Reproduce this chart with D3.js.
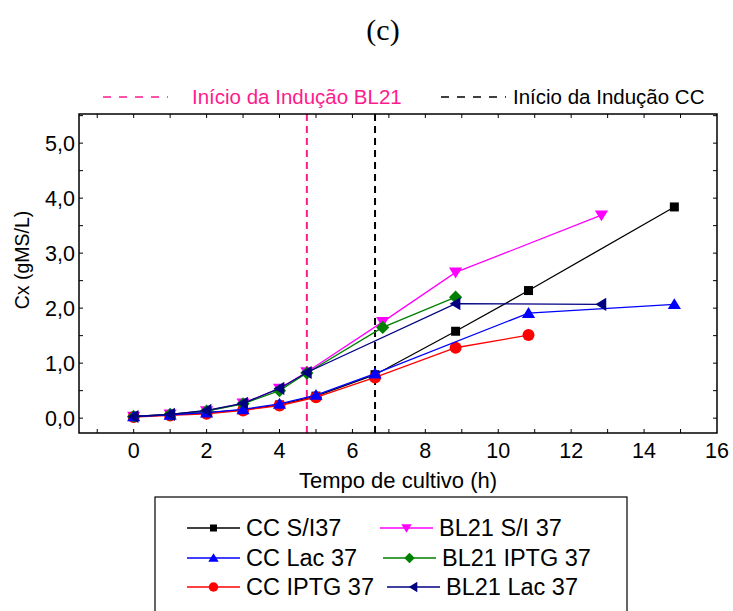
<!DOCTYPE html>
<meta charset="utf-8">
<head>
	<title>Cx vs tempo de cultivo (c)</title>
	<style>
		body { margin: 0; background: #FFFFFF; }
		svg { display: block; font-family: "Liberation Sans", Arial, sans-serif; }
		.frame { fill: none; stroke: #000; stroke-width: 1.5; }
		.tick { stroke: #000; stroke-width: 1; }
		.tickLabel { font-size: 21.5px; fill: #000; }
		.axisLabel { font-size: 22px; fill: #000; }
		.series { fill: none; stroke-width: 1.3; }
		.legendText { font-size: 23.5px; fill: #000; }
	</style>
	<script src="https://d3js.org/d3.v7.min.js"></script>
</head>
<body>
	<div id="graph"></div>
	<script>
		const W = 733, H = 611;

		// x = tempo de cultivo (h), y = Cx (gMS/L)
		const ccSI = [[0,0.03],[1,0.06],[2,0.10],[3,0.15],[4,0.24],[5,0.40],[6.62,0.79],[8.83,1.58],[10.83,2.32],[14.83,3.84]];
		const ccLac = [[0,0.03],[1,0.06],[2,0.10],[3,0.16],[4,0.26],[5,0.42],[6.62,0.81],[10.83,1.91],[14.83,2.07]];
		const ccIPTG = [[0,0.02],[1,0.05],[2,0.08],[3,0.14],[4,0.23],[5,0.38],[6.62,0.74],[8.83,1.28],[10.83,1.51]];
		const blSI = [[0,0.03],[1,0.07],[2,0.13],[3,0.27],[4,0.54],[4.75,0.84],[6.83,1.75],[8.83,2.65],[12.83,3.69]];
		const blIPTG = [[0,0.03],[1,0.07],[2,0.13],[3,0.26],[4,0.50],[4.75,0.82],[6.83,1.65],[8.83,2.20]];
		const blLac = [[0,0.03],[1,0.07],[2,0.14],[3,0.27],[4,0.54],[4.75,0.83],[8.83,2.08],[12.83,2.07]];

		const inducaoBL21 = 4.75, inducaoCC = 6.62;
		const xTicks = [0, 2, 4, 6, 8, 10, 12, 14, 16];
		const yTicks = [0, 1, 2, 3, 4, 5];

		// drawing order matters: later series sit on top
		const series = [
			{name: 'CC S/I37', data: ccSI, color: '#000000', sym: 'square'},
			{name: 'BL21 S/I 37', data: blSI, color: '#FF00FF', sym: 'down'},
			{name: 'CC IPTG 37', data: ccIPTG, color: '#FF0000', sym: 'circle'},
			{name: 'BL21 IPTG 37', data: blIPTG, color: '#008000', sym: 'diamond'},
			{name: 'CC Lac 37', data: ccLac, color: '#0000FF', sym: 'up'},
			{name: 'BL21 Lac 37', data: blLac, color: '#000080', sym: 'left'}
		];
		// legend layout, row by row
		const legendRows = [['CC S/I37', 'BL21 S/I 37'], ['CC Lac 37', 'BL21 IPTG 37'], ['CC IPTG 37', 'BL21 Lac 37']];

		const plot = {left: 79, top: 114, right: 717, bottom: 433};
		const x = d3.scaleLinear().domain([-1.5, 16]).range([plot.left, plot.right]);
		const y = d3.scaleLinear().domain([-0.27, 5.53]).range([plot.bottom, plot.top]);

		const svg = d3.select('#graph').append('svg').attr('width', W).attr('height', H);

		// marker path, centred on 0,0
		function marker(sym, s) {
			const h = s / 2;
			if (sym === 'square') return `M${-h},${-h}h${s}v${s}h${-s}Z`;
			if (sym === 'circle') return d3.symbol(d3.symbolCircle, Math.PI * h * h)();
			if (sym === 'diamond') return `M0,${-h*1.1}L${h*1.1},0L0,${h*1.1}L${-h*1.1},0Z`;
			if (sym === 'up') return `M0,${-h}L${h*1.1},${h*0.8}L${-h*1.1},${h*0.8}Z`;
			if (sym === 'down') return `M0,${h}L${h*1.1},${-h*0.8}L${-h*1.1},${-h*0.8}Z`;
			if (sym === 'left') return `M${-h},0L${h*0.8},${-h*1.1}L${h*0.8},${h*1.1}Z`;
		}

		// title
		svg.append('text').attr('x', 383).attr('y', 40).attr('text-anchor', 'middle')
			.style('font-family', '"Liberation Serif", "Times New Roman", serif').style('font-size', '30px').text('(c)');

		// induction legend above the plot
		const pink = '#FF1A8C';
		svg.append('line').attr('x1', 103).attr('x2', 168).attr('y1', 97).attr('y2', 97)
			.attr('stroke', pink).attr('stroke-width', 1.5).attr('stroke-dasharray', '8,8');
		svg.append('text').attr('x', 192).attr('y', 104).style('font-size', '20.5px').attr('fill', pink).text('Início da Indução BL21');
		svg.append('line').attr('x1', 441).attr('x2', 506).attr('y1', 97).attr('y2', 97)
			.attr('stroke', '#000').attr('stroke-width', 1.5).attr('stroke-dasharray', '8,8');
		svg.append('text').attr('x', 513).attr('y', 104).style('font-size', '20.5px').attr('fill', '#000').text('Início da Indução CC');

		// ticks (inside, mirrored on all four sides)
		const ticksG = svg.append('g');
		d3.range(-1, 16, 1).forEach(v => {
			ticksG.append('line').attr('class', 'tick').attr('x1', x(v)).attr('x2', x(v)).attr('y1', plot.bottom).attr('y2', plot.bottom - 4);
			ticksG.append('line').attr('class', 'tick').attr('x1', x(v)).attr('x2', x(v)).attr('y1', plot.top).attr('y2', plot.top + 4);
		});
		d3.range(0, 5.51, 0.5).forEach(v => {
			ticksG.append('line').attr('class', 'tick').attr('x1', plot.left).attr('x2', plot.left + 4).attr('y1', y(v)).attr('y2', y(v));
			ticksG.append('line').attr('class', 'tick').attr('x1', plot.right).attr('x2', plot.right - 4).attr('y1', y(v)).attr('y2', y(v));
		});

		// tick labels
		svg.append('g').selectAll('text').data(xTicks).join('text')
			.attr('class', 'tickLabel').attr('text-anchor', 'middle')
			.attr('x', d => x(d)).attr('y', plot.bottom + 25).text(d => d);
		svg.append('g').selectAll('text').data(yTicks).join('text')
			.attr('class', 'tickLabel').attr('text-anchor', 'end')
			.attr('x', plot.left - 4).attr('y', d => y(d) + 8).text(d => d3.format('.1f')(d).replace('.', ','));

		// axis titles
		svg.append('text').attr('class', 'axisLabel').attr('text-anchor', 'middle')
			.attr('x', 398).attr('y', 488).text('Tempo de cultivo (h)');
		svg.append('text').attr('class', 'axisLabel').attr('text-anchor', 'middle').style('font-size', '19.5px')
			.attr('transform', `translate(29,260) rotate(-90)`).text('Cx (gMS/L)');

		// induction lines
		svg.append('line').attr('x1', x(inducaoBL21)).attr('x2', x(inducaoBL21)).attr('y1', plot.top).attr('y2', plot.bottom)
			.attr('stroke', pink).attr('stroke-width', 2).attr('stroke-dasharray', '7,5');
		svg.append('line').attr('x1', x(inducaoCC)).attr('x2', x(inducaoCC)).attr('y1', plot.top).attr('y2', plot.bottom)
			.attr('stroke', '#000').attr('stroke-width', 2).attr('stroke-dasharray', '7,5');

		// series
		const line = d3.line().x(d => x(d[0])).y(d => y(d[1]));
		const seriesG = svg.append('g');
		series.forEach(s => {
			const g = seriesG.append('g');
			g.append('path').attr('class', 'series').attr('d', line(s.data)).attr('stroke', s.color);
			g.selectAll('path.m').data(s.data).join('path').attr('class', 'm')
				.attr('d', marker(s.sym, s.sym === 'square' ? 9 : 12))
				.attr('transform', d => `translate(${x(d[0])},${y(d[1])})`)
				.attr('fill', s.color);
		});

		// frame
		svg.append('rect').attr('class', 'frame')
			.attr('x', plot.left).attr('y', plot.top).attr('width', plot.right - plot.left).attr('height', plot.bottom - plot.top);

		// bottom legend
		const leg = svg.append('g');
		leg.append('rect').attr('x', 155).attr('y', 497).attr('width', 472).attr('height', 140)
			.attr('fill', 'none').attr('stroke', '#000').attr('stroke-width', 1.2);
		const rowY = [528, 558, 587];
		const colLine = [[187, 240], [380, 433], [383, 436], [387, 440]];
		legendRows.forEach((row, ri) => {
			row.forEach((name, ci) => {
				const s = series.find(e => e.name === name);
				const lx = ci === 0 ? colLine[0] : colLine[ri + 1];
				const cy = rowY[ri];
				leg.append('line').attr('x1', lx[0]).attr('x2', lx[1]).attr('y1', cy).attr('y2', cy)
					.attr('stroke', s.color).attr('stroke-width', 1.3);
				leg.append('path').attr('d', marker(s.sym, s.sym === 'square' ? 7 : 9.5))
					.attr('transform', `translate(${(lx[0] + lx[1]) / 2},${cy})`).attr('fill', s.color);
				leg.append('text').attr('class', 'legendText').attr('x', lx[1] + 6).attr('y', cy + 8).text(name);
			});
		});
	</script>
</body>
